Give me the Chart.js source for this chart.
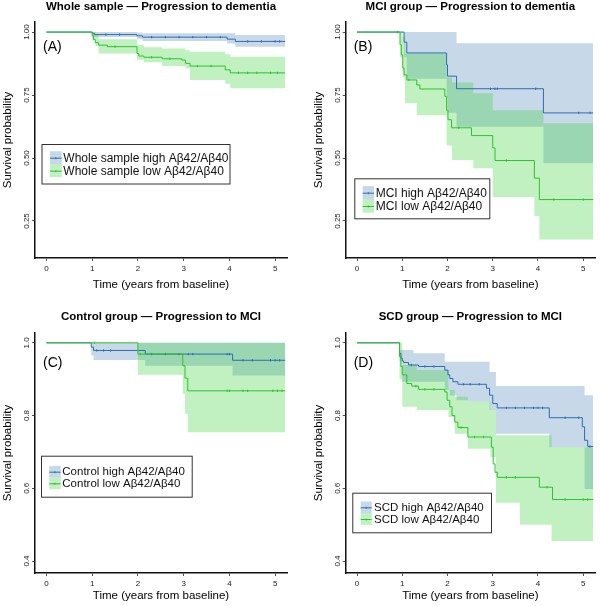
<!DOCTYPE html>
<html><head><meta charset="utf-8">
<script src="https://cdn.jsdelivr.net/npm/chart.js@4.4.1/dist/chart.umd.min.js"></script>
<style>
html,body{margin:0;padding:0;background:#fff;}
body{width:600px;height:606px;position:relative;overflow:hidden;}
canvas{position:absolute;}
</style></head><body>
<canvas id="cA" style="left:0;top:0;width:300px;height:300px" width="300" height="300"></canvas>
<canvas id="cB" style="left:300px;top:0;width:300px;height:300px" width="300" height="300"></canvas>
<canvas id="cC" style="left:0;top:300px;width:300px;height:306px" width="300" height="306"></canvas>
<canvas id="cD" style="left:300px;top:300px;width:300px;height:306px" width="300" height="306"></canvas>
<script>
// ---------- shared tick labels ----------
const xTicks = [0, 1, 2, 3, 4, 5];
const yTicksTop = [0.25, 0.5, 0.75, 1.0];
const yLabelsTop = ['0.25', '0.50', '0.75', '1.00'];
const yTicksBottom = [0.4, 0.6, 0.8, 1.0];
const yLabelsBottom = ['0.4', '0.6', '0.8', '1.0'];

// ---------- Panel A: Whole sample, progression to dementia ----------
const aHighT = [0, 1.0, 1.05, 1.98, 2.1, 3.95, 4.13, 5.22];
const aHighS = [1, 0.995, 0.99, 0.985, 0.98, 0.972, 0.963, 0.963];
const aHighBandT = [0, 1.0, 1.98, 2.1, 3.95, 4.13, 5.22];
const aHighUp = [1, 1, 0.998, 0.995, 0.995, 0.988, 0.988];
const aHighLo = [1, 0.98, 0.972, 0.965, 0.955, 0.942, 0.942];
const aLowT = [0, 1.0, 1.03, 1.07, 1.14, 1.33, 1.98, 2.02, 2.13, 2.53, 2.96, 3.04, 3.14, 3.91, 4.02, 5.22];
const aLowS = [1, 0.985, 0.97, 0.958, 0.948, 0.942, 0.915, 0.905, 0.9, 0.894, 0.889, 0.876, 0.865, 0.85, 0.838, 0.838];
const aLowBandT = [0, 1.0, 1.07, 1.14, 1.98, 2.13, 2.53, 3.04, 3.14, 3.91, 4.02, 5.22];
const aLowUp = [1, 0.998, 0.99, 0.972, 0.95, 0.94, 0.935, 0.928, 0.922, 0.912, 0.902, 0.902];
const aLowLo = [1, 0.97, 0.945, 0.915, 0.89, 0.88, 0.865, 0.855, 0.81, 0.795, 0.777, 0.777];
const aHighCT = [1.3, 1.6, 2.3, 2.6, 2.9, 3.2, 3.5, 3.8, 4.4, 4.7, 5.0, 5.1];
const aHighCS = [0.99, 0.99, 0.98, 0.98, 0.98, 0.98, 0.98, 0.98, 0.963, 0.963, 0.963, 0.963];
const aLowCT = [1.5, 2.3, 2.7, 3.3, 3.6, 4.2, 4.4, 4.6, 4.9, 5.05];
const aLowCS = [0.942, 0.9, 0.894, 0.865, 0.865, 0.838, 0.838, 0.838, 0.838, 0.838];

// ---------- Panel B: MCI group, progression to dementia ----------
const bHighT = [0, 1.04, 1.1, 1.98, 2.0, 2.2, 4.12, 5.22];
const bHighS = [1, 0.96, 0.917, 0.87, 0.825, 0.775, 0.679, 0.679];
const bHighBandT = [0, 1.04, 1.1, 1.98, 2.0, 2.2, 4.12, 5.22];
const bHighUp = [1, 1, 1, 1, 1, 0.956, 0.956, 0.956];
const bHighLo = [1, 0.9, 0.815, 0.74, 0.68, 0.624, 0.479, 0.479];
const bLowT = [0, 0.95, 0.98, 1.01, 1.04, 1.1, 1.32, 1.39, 1.94, 1.98, 2.01, 2.09, 2.53, 3.0, 3.05, 3.92, 4.03, 5.22];
const bLowS = [1, 0.95, 0.91, 0.857, 0.83, 0.81, 0.79, 0.774, 0.745, 0.69, 0.652, 0.62, 0.589, 0.54, 0.49, 0.42, 0.335, 0.335];
const bLowBandT = [0, 0.95, 1.01, 1.06, 1.32, 1.98, 2.1, 2.57, 3.0, 3.92, 4.03, 4.12, 5.22];
const bLowUp = [1, 1, 0.98, 0.915, 0.915, 0.82, 0.8, 0.757, 0.69, 0.69, 0.69, 0.638, 0.638];
const bLowLo = [1, 0.9, 0.82, 0.717, 0.67, 0.55, 0.492, 0.459, 0.345, 0.27, 0.176, 0.176, 0.176];
const bHighCT = [0.9, 2.95, 3.05, 3.1, 3.95, 4.9, 5.15];
const bHighCS = [1, 0.775, 0.775, 0.775, 0.775, 0.679, 0.679];
const bLowCT = [1.15, 2.25, 3.3, 4.35, 5.0];
const bLowCS = [0.81, 0.62, 0.49, 0.335, 0.335];

// ---------- Panel C: Control group, progression to MCI ----------
const cHighT = [0, 0.98, 1.03, 2.16, 4.07, 5.22];
const cHighS = [1, 0.988, 0.979, 0.969, 0.952, 0.952];
const cHighBandT = [0, 0.98, 1.03, 2.16, 4.07, 5.22];
const cHighUp = [1, 1, 1, 1, 1, 1];
const cHighLo = [1, 0.965, 0.953, 0.937, 0.91, 0.91];
const cLowT = [0, 2.0, 2.98, 3.03, 3.09, 5.22];
const cLowS = [1, 0.969, 0.937, 0.903, 0.868, 0.868];
const cLowBandT = [0, 2.0, 2.98, 3.03, 3.09, 5.22];
const cLowUp = [1, 1, 1, 1, 1, 1];
const cLowLo = [1, 0.912, 0.86, 0.805, 0.754, 0.754];
const cHighCT = [1.1, 1.25, 1.4, 2.3, 2.6, 2.9, 3.1, 3.2, 3.95, 4.0, 4.3, 4.5, 4.9, 5.0, 5.1];
const cHighCS = [0.979, 0.979, 0.979, 0.969, 0.969, 0.969, 0.969, 0.969, 0.969, 0.969, 0.952, 0.952, 0.952, 0.952, 0.952];
const cLowCT = [1.05, 2.05, 3.95, 4.0, 4.3, 4.4, 4.95, 5.05, 5.15];
const cLowCS = [1, 0.969, 0.868, 0.868, 0.868, 0.868, 0.868, 0.868, 0.868];

// ---------- Panel D: SCD group, progression to MCI ----------
const dHighT = [0, 0.94, 0.97, 1.0, 1.03, 1.14, 1.36, 1.94, 2.01, 2.05, 2.12, 2.23, 2.86, 2.93, 3.0, 3.1, 4.25, 4.98, 5.03, 5.1, 5.22];
const dHighS = [1, 0.971, 0.958, 0.95, 0.946, 0.939, 0.935, 0.925, 0.912, 0.902, 0.893, 0.886, 0.875, 0.856, 0.833, 0.821, 0.794, 0.769, 0.732, 0.715, 0.715];
const dHighBandT = [0, 0.94, 1.0, 1.25, 1.94, 2.05, 2.2, 2.45, 2.93, 3.07, 4.25, 5.03, 5.22];
const dHighUp = [1, 0.98, 0.98, 0.971, 0.948, 0.948, 0.948, 0.948, 0.92, 0.881, 0.881, 0.856, 0.856];
const dHighLo = [1, 0.95, 0.893, 0.893, 0.87, 0.855, 0.842, 0.838, 0.815, 0.75, 0.713, 0.598, 0.598];
const dLowT = [0, 0.94, 0.97, 1.0, 1.1, 1.21, 1.36, 1.94, 1.99, 2.05, 2.1, 2.16, 2.23, 2.45, 2.97, 3.01, 3.05, 3.1, 4.03, 4.32, 5.22];
const dLowS = [1, 0.962, 0.935, 0.912, 0.888, 0.881, 0.872, 0.865, 0.842, 0.824, 0.8, 0.782, 0.767, 0.741, 0.713, 0.667, 0.644, 0.63, 0.603, 0.569, 0.569];
const dLowBandT = [0, 0.94, 1.0, 1.32, 2.02, 2.16, 2.45, 2.95, 3.07, 3.6, 4.3, 5.22];
const dLowUp = [1, 1, 0.939, 0.925, 0.87, 0.852, 0.838, 0.815, 0.746, 0.746, 0.713, 0.713];
const dLowLo = [1, 0.9, 0.824, 0.815, 0.796, 0.75, 0.709, 0.686, 0.56, 0.5, 0.455, 0.455];
const dHighCT = [1.2, 1.5, 1.7, 2.35, 2.5, 2.7, 3.3, 3.5, 3.7, 3.9, 4.0, 4.1, 4.6, 4.9, 5.15];
const dHighCS = [0.939, 0.935, 0.935, 0.886, 0.886, 0.886, 0.821, 0.821, 0.821, 0.821, 0.821, 0.821, 0.794, 0.794, 0.715];
const dLowCT = [1.3, 1.5, 1.7, 2.3, 2.6, 2.8, 3.3, 3.5, 4.2, 4.6, 5.0, 5.1];
const dLowCS = [0.881, 0.872, 0.872, 0.767, 0.741, 0.741, 0.63, 0.63, 0.603, 0.569, 0.569, 0.569];

// ---------- styles ----------
const FONT = '"Liberation Sans", Arial, Helvetica, sans-serif';
const BLUE = '#2f6cb2';
const GREEN = '#2cc42c';
const BLUE_BAND = 'rgba(70,130,180,0.30)';
const GREEN_BAND = 'rgba(50,205,50,0.30)';

const pts = (ts, vs) => ts.map((t, i) => ({ x: t, y: vs[i] }));

const deco = {
  id: 'deco',
  afterDraw(chart, args, o) {
    const { ctx, chartArea: a, scales: { y } } = chart;
    ctx.save();
    ctx.fillStyle = '#000';
    ctx.textAlign = 'center';
    ctx.textBaseline = 'middle';
    ctx.font = 'bold 11.5px ' + FONT;
    ctx.fillText(o.title, (a.left + a.right) / 2, o.titleY);
    ctx.font = '8px ' + FONT;
    ctx.fillStyle = '#222';
    o.yTicks.forEach((v, i) => {
      ctx.save();
      ctx.translate(a.left - 8, y.getPixelForValue(v));
      ctx.rotate(-Math.PI / 2);
      ctx.fillText(o.yLabels[i], 0, 0);
      ctx.restore();
    });
    ctx.fillStyle = '#000';
    ctx.font = '11.5px ' + FONT;
    ctx.save();
    ctx.translate(a.left - 27, (a.top + a.bottom) / 2);
    ctx.rotate(-Math.PI / 2);
    ctx.fillText('Survival probability', 0, 0);
    ctx.restore();
    ctx.fillText('Time (years from baseline)', (a.left + a.right) / 2, a.bottom + o.xTitleDy);
    ctx.font = '14px ' + FONT;
    ctx.textAlign = 'left';
    ctx.fillText(o.tag, a.left + 8, o.tagY);
    const L = o.legend;
    ctx.fillStyle = '#fff';
    ctx.fillRect(L.x, L.y, L.w, L.h);
    ctx.strokeStyle = '#333';
    ctx.lineWidth = 1;
    ctx.strokeRect(L.x + 0.5, L.y + 0.5, L.w, L.h);
    const rh = L.rows[1] - L.rows[0];
    const items = [[BLUE_BAND, BLUE, o.names[0]], [GREEN_BAND, GREEN, o.names[1]]];
    items.forEach((it, i) => {
      const cy = L.rows[i];
      ctx.fillStyle = it[0];
      ctx.fillRect(L.sx, cy - rh / 2, L.sw, rh);
      ctx.strokeStyle = it[1];
      ctx.lineWidth = 1;
      ctx.beginPath();
      ctx.moveTo(L.sx, cy + 0.5); ctx.lineTo(L.sx + L.sw, cy + 0.5);
      ctx.moveTo(L.sx + L.sw / 2, cy - 0.5); ctx.lineTo(L.sx + L.sw / 2, cy + 1.5);
      ctx.stroke();
      ctx.fillStyle = '#111';
      ctx.font = L.font + 'px ' + FONT;
      ctx.textBaseline = 'middle';
      ctx.fillText(it[2], L.tx, cy + 0.5);
    });
    ctx.restore();
  }
};

function makePanel(id, P) {
  const line = (t, s, c) => ({ data: pts(t, s), stepped: 'before', borderColor: c, borderWidth: 1, pointRadius: 0, fill: false });
  const cens = (t, s, c) => ({ data: pts(t, s), showLine: false, pointStyle: 'line', rotation: 90, pointRadius: 1.2, borderColor: c, borderWidth: 1, pointBorderColor: c, fill: false });
  const band = (t, v, fill, bg) => ({ data: pts(t, v), stepped: 'before', borderWidth: 0, borderColor: 'rgba(0,0,0,0)', pointRadius: 0, fill: fill, backgroundColor: bg });
  const grid = { display: true, drawOnChartArea: false, drawTicks: true, tickLength: 3, color: '#555', lineWidth: 1 };
  new Chart(document.getElementById(id), {
    type: 'line',
    data: {
      datasets: [
        line(P.lowT, P.lowS, GREEN),
        line(P.highT, P.highS, BLUE),
        cens(P.lowCT, P.lowCS, GREEN),
        cens(P.highCT, P.highCS, BLUE),
        band(P.lowBandT, P.lowUp, false, GREEN_BAND),
        band(P.lowBandT, P.lowLo, '-1', GREEN_BAND),
        band(P.highBandT, P.highUp, false, BLUE_BAND),
        band(P.highBandT, P.highLo, '-1', BLUE_BAND)
      ]
    },
    options: {
      responsive: false,
      animation: false,
      events: [],
      layout: { padding: { left: 0, right: P.padRight, top: P.padTop, bottom: 0 } },
      plugins: {
        legend: { display: false },
        tooltip: { enabled: false },
        title: { display: false },
        deco: P.deco
      },
      scales: {
        x: {
          type: 'linear', min: -0.25, max: 5.26,
          afterBuildTicks: s => { s.ticks = xTicks.map(v => ({ value: v })); },
          afterFit: s => { s.height = P.xAxisH; },
          grid: grid,
          border: { display: true, color: '#111', width: 1.5 },
          ticks: { font: { family: FONT, size: 8 }, color: '#222', padding: 3, maxRotation: 0, autoSkip: false, callback: v => String(v) }
        },
        y: {
          type: 'linear', min: P.yMin, max: P.yMax,
          afterBuildTicks: s => { s.ticks = P.deco.yTicks.map(v => ({ value: v })); },
          afterFit: s => { s.width = P.yAxisW; },
          grid: grid,
          border: { display: true, color: '#111', width: 1.5 },
          ticks: { display: false }
        }
      }
    },
    plugins: [deco]
  });
}

makePanel('cA', {
  highT: aHighT, highS: aHighS, highBandT: aHighBandT, highUp: aHighUp, highLo: aHighLo,
  lowT: aLowT, lowS: aLowS, lowBandT: aLowBandT, lowUp: aLowUp, lowLo: aLowLo,
  highCT: aHighCT, highCS: aHighCS, lowCT: aLowCT, lowCS: aLowCS,
  yMin: 0.103, yMax: 1.04, padTop: 22, padRight: 13, xAxisH: 42, yAxisW: 35,
  deco: { title: 'Whole sample — Progression to dementia', titleY: 6.5, tag: '(A)', tagY: 47,
    yTicks: yTicksTop, yLabels: yLabelsTop, xTitleDy: 27,
    names: ['Whole sample high Aβ42/Aβ40', 'Whole sample low Aβ42/Aβ40'],
    legend: { x: 41.5, y: 144, w: 188, h: 39.5, rows: [157.7, 170.7], sx: 50, sw: 11.7, tx: 63.3, font: 12 } }
});
makePanel('cB', {
  highT: bHighT, highS: bHighS, highBandT: bHighBandT, highUp: bHighUp, highLo: bHighLo,
  lowT: bLowT, lowS: bLowS, lowBandT: bLowBandT, lowUp: bLowUp, lowLo: bLowLo,
  highCT: bHighCT, highCS: bHighCS, lowCT: bLowCT, lowCS: bLowCS,
  yMin: 0.103, yMax: 1.04, padTop: 22, padRight: 2.3, xAxisH: 42, yAxisW: 45.7,
  deco: { title: 'MCI group — Progression to dementia', titleY: 6.5, tag: '(B)', tagY: 47,
    yTicks: yTicksTop, yLabels: yLabelsTop, xTitleDy: 27,
    names: ['MCI high Aβ42/Aβ40', 'MCI low Aβ42/Aβ40'],
    legend: { x: 54.3, y: 178.3, w: 135, h: 40, rows: [192.7, 206], sx: 62.7, sw: 11.3, tx: 75.7, font: 12 } }
});
makePanel('cC', {
  highT: cHighT, highS: cHighS, highBandT: cHighBandT, highUp: cHighUp, highLo: cHighLo,
  lowT: cLowT, lowS: cLowS, lowBandT: cLowBandT, lowUp: cLowUp, lowLo: cLowLo,
  highCT: cHighCT, highCS: cHighCS, lowCT: cLowCT, lowCS: cLowCS,
  yMin: 0.367, yMax: 1.027, padTop: 33, padRight: 13, xAxisH: 33, yAxisW: 35,
  deco: { title: 'Control group — Progression to MCI', titleY: 16.7, tag: '(C)', tagY: 63.3,
    yTicks: yTicksBottom, yLabels: yLabelsBottom, xTitleDy: 23,
    names: ['Control high Aβ42/Aβ40', 'Control low Aβ42/Aβ40'],
    legend: { x: 41, y: 155.7, w: 150.7, h: 41, rows: [171.7, 183.3], sx: 49.3, sw: 11.4, tx: 62.3, font: 11.5 } }
});
makePanel('cD', {
  highT: dHighT, highS: dHighS, highBandT: dHighBandT, highUp: dHighUp, highLo: dHighLo,
  lowT: dLowT, lowS: dLowS, lowBandT: dLowBandT, lowUp: dLowUp, lowLo: dLowLo,
  highCT: dHighCT, highCS: dHighCS, lowCT: dLowCT, lowCS: dLowCS,
  yMin: 0.367, yMax: 1.027, padTop: 33, padRight: 2.3, xAxisH: 33, yAxisW: 45.7,
  deco: { title: 'SCD group — Progression to MCI', titleY: 16.7, tag: '(D)', tagY: 63.3,
    yTicks: yTicksBottom, yLabels: yLabelsBottom, xTitleDy: 23,
    names: ['SCD high Aβ42/Aβ40', 'SCD low Aβ42/Aβ40'],
    legend: { x: 52.3, y: 192.7, w: 138.7, h: 39.6, rows: [207.3, 219], sx: 60.7, sw: 11, tx: 74, font: 11.5 } }
});
</script>
</body></html>
